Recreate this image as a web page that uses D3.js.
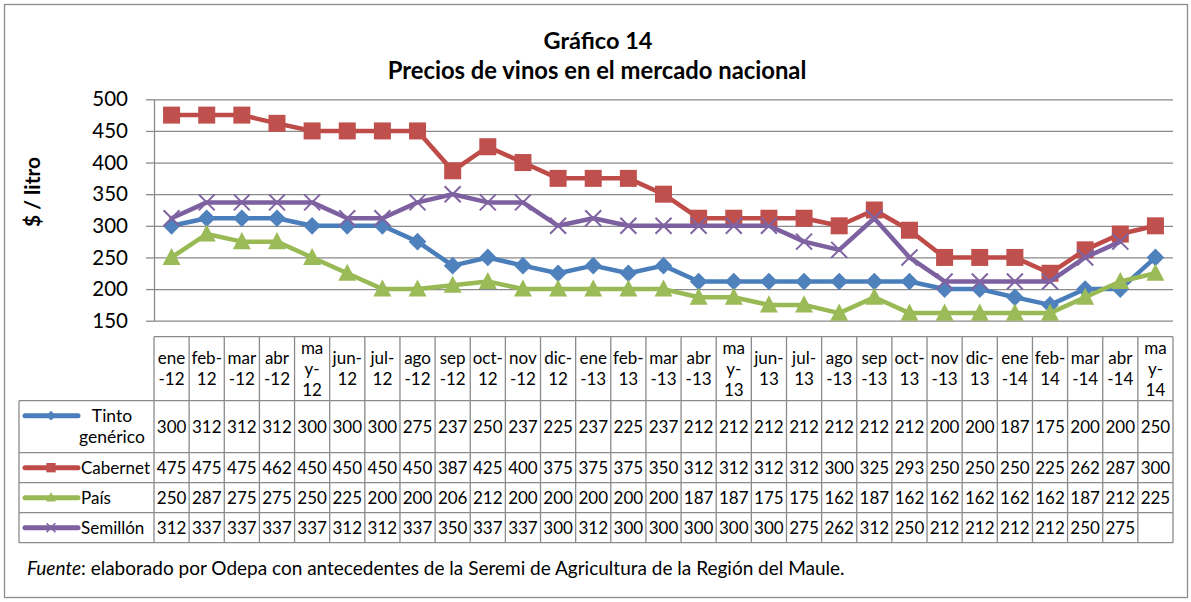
<!DOCTYPE html>
<html>
<head>
<meta charset="utf-8">
<script src="https://cdn.jsdelivr.net/npm/d3@7"></script>
<style>
  body { margin: 0; background: #fff; }
  svg { display: block; font-family: Lato, "Open Sans", sans-serif; }
</style>
</head>
<body>
<svg id="chart" width="1191" height="602"></svg>
<script>
// ---------- DATA ----------
const categories = ["ene-12","feb-12","mar-12","abr-12","may-12","jun-12","jul-12","ago-12","sep-12","oct-12","nov-12","dic-12",
  "ene-13","feb-13","mar-13","abr-13","may-13","jun-13","jul-13","ago-13","sep-13","oct-13","nov-13","dic-13",
  "ene-14","feb-14","mar-14","abr-14","may-14"];
// wrapped tick labels as they appear in the table header
const tickLabels = [["ene","-12"],["feb-","12"],["mar","-12"],["abr","-12"],["ma","y-","12"],["jun-","12"],["jul-","12"],["ago","-12"],["sep","-12"],["oct-","12"],["nov","-12"],["dic-","12"],
  ["ene","-13"],["feb-","13"],["mar","-13"],["abr","-13"],["ma","y-","13"],["jun-","13"],["jul-","13"],["ago","-13"],["sep","-13"],["oct-","13"],["nov","-13"],["dic-","13"],
  ["ene","-14"],["feb-","14"],["mar","-14"],["abr","-14"],["ma","y-","14"]];
const tintoGenerico = [300,312,312,312,300,300,300,275,237,250,237,225,237,225,237,212,212,212,212,212,212,212,200,200,187,175,200,200,250];
const cabernet      = [475,475,475,462,450,450,450,450,387,425,400,375,375,375,350,312,312,312,312,300,325,293,250,250,250,225,262,287,300];
const pais          = [250,287,275,275,250,225,200,200,206,212,200,200,200,200,200,187,187,175,175,162,187,162,162,162,162,162,187,212,225];
const semillon      = [312,337,337,337,337,312,312,337,350,337,337,300,312,300,300,300,300,300,275,262,312,250,212,212,212,212,250,275,null];
const seriesNames = [["Tinto","genérico"],["Cabernet"],["País"],["Semillón"]];
const yTicks = [150,200,250,300,350,400,450,500];
const titleLines = ["Gráfico 14","Precios de vinos en el mercado nacional"];
const yTitle = "$ / litro";
const sourceItalic = "Fuente";
const sourceRest = ": elaborado por Odepa con antecedentes de la Seremi de Agricultura de la Región del Maule.";

// ---------- STYLE / LAYOUT ----------
const plot = {left: 154, right: 1173, top: 99.3, bottom: 320.7};
const table = {top: 336.7, headerBottom: 400.7, legendLeft: 19, rowBottoms: [452.7, 482.7, 512.7, 542.7]};
const gridColor = "#8a8a8a";
const styles = [
  {line: "#4A7EBB", fill: "#4F81BD", marker: "diamond"},
  {line: "#BE4B48", fill: "#C0504D", marker: "square"},
  {line: "#98B954", fill: "#9BBB59", marker: "triangle"},
  {line: "#7D60A0", fill: "#8064A2", marker: "x"}
];
const seriesValues = [tintoGenerico, cabernet, pais, semillon];

const svg = d3.select("#chart");

// outer border
svg.append("rect").attr("x", 4.5).attr("y", 4.5).attr("width", 1183).attr("height", 593)
  .attr("fill", "#fff").attr("stroke", "#8c8c8c").attr("stroke-width", 1.3);

// titles
svg.append("text").attr("x", 598).attr("y", 48.5).attr("text-anchor", "middle")
  .attr("font-weight", "bold").attr("font-size", 23.5).text(titleLines[0]);
svg.append("text").attr("x", 597).attr("y", 79).attr("text-anchor", "middle")
  .attr("font-weight", "bold").attr("font-size", 23.8).text(titleLines[1]);

// scales
const x = d3.scaleBand().domain(categories).range([plot.left, plot.right]).paddingInner(0).paddingOuter(0);
const y = d3.scaleLinear().domain([150, 500]).range([plot.bottom, plot.top]);

// gridlines
svg.append("g").attr("transform", `translate(${plot.left},0)`)
  .call(d3.axisLeft(y).tickValues(yTicks).tickSize(-(plot.right - plot.left)).tickFormat(""))
  .call(g => g.select(".domain").remove())
  .call(g => g.selectAll("line").attr("stroke", gridColor).attr("stroke-width", 1.3));

// y axis
svg.append("g").attr("transform", `translate(${plot.left},0)`)
  .call(d3.axisLeft(y).tickValues(yTicks).tickSize(8).tickPadding(18).tickSizeOuter(0))
  .call(g => g.select(".domain").attr("stroke", gridColor).attr("stroke-width", 1.3))
  .call(g => g.selectAll("line").attr("stroke", gridColor).attr("stroke-width", 1.3))
  .call(g => g.selectAll("text").attr("font-family", "Lato, sans-serif").attr("font-size", 20.5).attr("fill", "#000"));

// y title
svg.append("text").attr("transform", `translate(40,192) rotate(-90)`).attr("text-anchor", "middle")
  .attr("font-weight", "bold").attr("font-size", 21).text(yTitle);

// marker symbols
const diamondType = {draw(ctx, size) { const r = Math.sqrt(size) / 2 * Math.SQRT2; ctx.moveTo(0,-r); ctx.lineTo(r,0); ctx.lineTo(0,r); ctx.lineTo(-r,0); ctx.closePath(); }};
const squareType = {draw(ctx, size) { const r = Math.sqrt(size) / 2; ctx.rect(-r,-r,2*r,2*r); }};
const triangleType = {draw(ctx, size) { const s = Math.sqrt(size); const h = s * 0.95; ctx.moveTo(0,-h/2 - 1); ctx.lineTo(s/2,h/2 - 1); ctx.lineTo(-s/2,h/2 - 1); ctx.closePath(); }};
const xType = {draw(ctx, size) { const r = Math.sqrt(size) / 2; ctx.moveTo(-r,-r); ctx.lineTo(r,r); ctx.moveTo(r,-r); ctx.lineTo(-r,r); }};
const types = {diamond: diamondType, square: squareType, triangle: triangleType, x: xType};
const markerSize = {diamond: 12.5*12.5, square: 17*17, triangle: 18*18, x: 16*16};

function drawMarker(g, st, cx, cy, scale) {
  const sz = markerSize[st.marker] * scale * scale;
  const p = g.append("path").attr("transform", `translate(${cx},${cy})`)
    .attr("d", d3.symbol().type(types[st.marker]).size(sz)());
  if (st.marker === "x") p.attr("fill", "none").attr("stroke", st.fill).attr("stroke-width", 2 * Math.max(scale, 0.8));
  else p.attr("fill", st.fill).attr("stroke", "none");
}

// series lines + markers
const xc = c => x(c) + x.bandwidth() / 2;
seriesValues.forEach((vals, si) => {
  const st = styles[si];
  const g = svg.append("g");
  const line = d3.line().defined(d => d.v != null).x(d => xc(d.c)).y(d => y(d.v));
  const data = categories.map((c, i) => ({c, v: vals[i]}));
  g.append("path").datum(data).attr("d", line).attr("fill", "none")
    .attr("stroke", st.line).attr("stroke-width", 4.5).attr("stroke-linejoin", "round").attr("stroke-linecap", "round");
  data.filter(d => d.v != null).forEach(d => drawMarker(g, st, xc(d.c), y(d.v), 1));
});

// ---------- DATA TABLE ----------
const tg = svg.append("g");
const tableStroke = t => t.attr("stroke", gridColor).attr("stroke-width", 1.3);
const rowTops = [table.headerBottom, ...table.rowBottoms.slice(0, -1)];
const bottom = table.rowBottoms[table.rowBottoms.length - 1];
tableStroke(tg.append("line").attr("x1", plot.left).attr("x2", plot.right).attr("y1", table.top).attr("y2", table.top));
[table.headerBottom, ...table.rowBottoms].forEach(yy =>
  tableStroke(tg.append("line").attr("x1", table.legendLeft).attr("x2", plot.right).attr("y1", yy).attr("y2", yy)));
tableStroke(tg.append("line").attr("x1", table.legendLeft).attr("x2", table.legendLeft).attr("y1", table.headerBottom).attr("y2", bottom));
categories.forEach(c => tableStroke(tg.append("line").attr("x1", x(c)).attr("x2", x(c)).attr("y1", table.top).attr("y2", bottom)));
tableStroke(tg.append("line").attr("x1", plot.right).attr("x2", plot.right).attr("y1", table.top).attr("y2", bottom));

const fs = 17, lh = 21;
const hc = (table.top + table.headerBottom) / 2;
categories.forEach((c, i) => {
  const lines = tickLabels[i];
  lines.forEach((ln, k) => {
    tg.append("text").attr("x", xc(c)).attr("y", hc + (k - (lines.length - 1) / 2) * lh).attr("dy", "0.35em")
      .attr("text-anchor", "middle").attr("font-size", fs).text(ln);
  });
});
seriesValues.forEach((vals, si) => {
  const top = rowTops[si], bot = table.rowBottoms[si], cy = (top + bot) / 2;
  categories.forEach((c, i) => {
    if (vals[i] == null) return;
    tg.append("text").attr("x", xc(c)).attr("y", cy).attr("dy", "0.35em").attr("text-anchor", "middle")
      .attr("font-size", fs).text(vals[i]);
  });
  const st = styles[si];
  const ly = si === 0 ? cy - 11 : cy;
  tg.append("line").attr("x1", 25).attr("x2", 78).attr("y1", ly).attr("y2", ly)
    .attr("stroke", st.line).attr("stroke-width", 5).attr("stroke-linecap", "round");
  drawMarker(tg, st, 51, ly, 0.55);
  const name = seriesNames[si];
  if (name.length > 1) {
    name.forEach((ln, k) => tg.append("text").attr("x", 112).attr("y", cy + (k - 0.5) * lh).attr("dy", "0.35em")
      .attr("text-anchor", "middle").attr("font-size", fs + 0.5).text(ln));
  } else {
    tg.append("text").attr("x", 81).attr("y", cy).attr("dy", "0.35em").attr("font-size", fs).text(name[0]);
  }
});

// source note
const src = svg.append("text").attr("x", 27).attr("y", 575).attr("font-size", 19);
src.append("tspan").attr("font-style", "italic").text(sourceItalic);
src.append("tspan").text(sourceRest);
</script>
</body>
</html>
